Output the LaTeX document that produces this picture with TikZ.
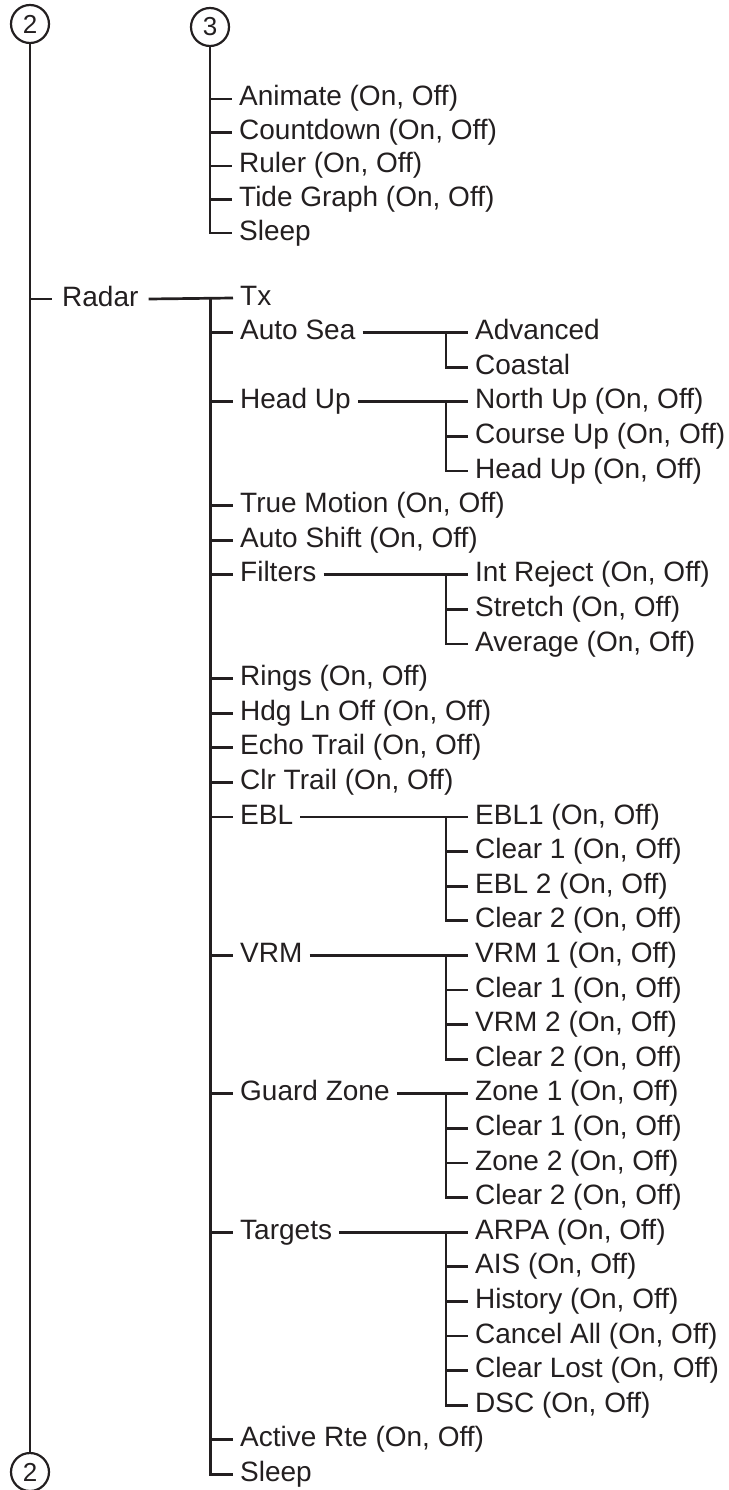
\documentclass[tikz,border=0pt]{standalone}
\usepackage{fontspec}
\setmainfont{Liberation Sans}
\definecolor{ink}{RGB}{35,31,32}
\newcommand\ry[1]{298+34.6*#1}
\newcommand\ty[1]{99+33.5*#1}
\begin{document}
\begin{tikzpicture}[x=1pt,y=-1pt,
  lbl/.style={anchor=west, inner xsep=7pt, inner ysep=0pt, text height=14pt, text depth=0pt,
    font=\fontsize{28}{32}\selectfont, text=ink},
  num/.style={circle, draw=ink, line width=2.2pt, minimum size=38pt, inner sep=0pt,
    font=\fontsize{26}{30}\selectfont, text=ink},
  link/.style={draw=ink, line width=2.7pt, line join=miter, line cap=butt}]
\useasboundingbox (0,0) rectangle (728,1490);

% circles
\node[num] (c2a) at (30,24) {2};
\node[num] (c2b) at (30,1472) {2};
\node[num] (c3) at (210,27) {3};

% top section
\node[lbl] (p1) at (232,{\ty{0}}) {Animate (On, Off)};
\node[lbl] (p2) at (232,{\ty{1}}) {Countdown (On, Off)};
\node[lbl] (p3) at (232,{\ty{2}}) {Ruler (On, Off)};
\node[lbl] (p4) at (232,{\ty{3}}) {Tide Graph (On, Off)};
\node[lbl] (p5) at (232,{\ty{4}}) {Sleep};

% radar
\node[lbl, inner xsep=10pt] (radar) at (52,299) {Radar};

% level 1
\node[lbl] (r0)  at (233,{\ry{0}})  {Tx};
\node[lbl] (r1)  at (233,{\ry{1}})  {Auto Sea};
\node[lbl] (r3)  at (233,{\ry{3}})  {Head Up};
\node[lbl] (r6)  at (233,{\ry{6}})  {True Motion (On, Off)};
\node[lbl] (r7)  at (233,{\ry{7}})  {Auto Shift (On, Off)};
\node[lbl] (r8)  at (233,{\ry{8}})  {Filters};
\node[lbl] (r11) at (233,{\ry{11}}) {Rings (On, Off)};
\node[lbl] (r12) at (233,{\ry{12}}) {Hdg Ln Off (On, Off)};
\node[lbl] (r13) at (233,{\ry{13}}) {Echo Trail (On, Off)};
\node[lbl] (r14) at (233,{\ry{14}}) {Clr Trail (On, Off)};
\node[lbl] (r15) at (233,{\ry{15}}) {EBL};
\node[lbl] (r19) at (233,{\ry{19}}) {VRM};
\node[lbl] (r23) at (233,{\ry{23}}) {Guard Zone};
\node[lbl] (r27) at (233,{\ry{27}}) {Targets};
\node[lbl] (r33) at (233,{\ry{33}}) {Active Rte (On, Off)};
\node[lbl] (r34) at (233,{\ry{34}}) {Sleep};

% level 2
\node[lbl] (a1) at (468,{\ry{1}}) {Advanced};
\node[lbl] (a2) at (468,{\ry{2}}) {Coastal};
\node[lbl] (h1) at (468,{\ry{3}}) {North Up (On, Off)};
\node[lbl] (h2) at (468,{\ry{4}}) {Course Up (On, Off)};
\node[lbl] (h3) at (468,{\ry{5}}) {Head Up (On, Off)};
\node[lbl] (f1) at (468,{\ry{8}}) {Int Reject (On, Off)};
\node[lbl] (f2) at (468,{\ry{9}}) {Stretch (On, Off)};
\node[lbl] (f3) at (468,{\ry{10}}) {Average (On, Off)};
\node[lbl] (e1) at (468,{\ry{15}}) {EBL1 (On, Off)};
\node[lbl] (e2) at (468,{\ry{16}}) {Clear 1 (On, Off)};
\node[lbl] (e3) at (468,{\ry{17}}) {EBL 2 (On, Off)};
\node[lbl] (e4) at (468,{\ry{18}}) {Clear 2 (On, Off)};
\node[lbl] (v1) at (468,{\ry{19}}) {VRM 1 (On, Off)};
\node[lbl] (v2) at (468,{\ry{20}}) {Clear 1 (On, Off)};
\node[lbl] (v3) at (468,{\ry{21}}) {VRM 2 (On, Off)};
\node[lbl] (v4) at (468,{\ry{22}}) {Clear 2 (On, Off)};
\node[lbl] (g1) at (468,{\ry{23}}) {Zone 1 (On, Off)};
\node[lbl] (g2) at (468,{\ry{24}}) {Clear 1 (On, Off)};
\node[lbl] (g3) at (468,{\ry{25}}) {Zone 2 (On, Off)};
\node[lbl] (g4) at (468,{\ry{26}}) {Clear 2 (On, Off)};
\node[lbl] (t1) at (468,{\ry{27}}) {ARPA (On, Off)};
\node[lbl] (t2) at (468,{\ry{28}}) {AIS (On, Off)};
\node[lbl] (t3) at (468,{\ry{29}}) {History (On, Off)};
\node[lbl] (t4) at (468,{\ry{30}}) {Cancel All (On, Off)};
\node[lbl] (t5) at (468,{\ry{31}}) {Clear Lost (On, Off)};
\node[lbl] (t6) at (468,{\ry{32}}) {DSC (On, Off)};

\coordinate (rv) at (210.5,0);
\coordinate (sv) at (446,0);

% main line 2
\draw[link] (c2a.south) -- (c2b.north);
\draw[link] (c2a.south |- radar.west) -- (radar.west);

% line 3
\draw[link] (c3.south) |- (p5.west);
\foreach \n in {p1,p2,p3,p4} \draw[link] (c3.south |- \n.west) -- (\n.west);

% radar tree
\draw[link] (radar.east) -- (r0.west);
\draw[link] (rv |- r0.west) |- (r34.west);
\foreach \n in {r1,r3,r6,r7,r8,r11,r12,r13,r14,r15,r19,r23,r27,r33}
  \draw[link] (rv |- \n.west) -- (\n.west);

% sub groups
\draw[link] (r1.east) -- (a1.west);
\draw[link] (sv |- a1.west) |- (a2.west);

\draw[link] (r3.east) -- (h1.west);
\draw[link] (sv |- h1.west) |- (h3.west);
\draw[link] (sv |- h2.west) -- (h2.west);

\draw[link] (r8.east) -- (f1.west);
\draw[link] (sv |- f1.west) |- (f3.west);
\draw[link] (sv |- f2.west) -- (f2.west);

\draw[link] (r15.east) -- (e1.west);
\draw[link] (sv |- e1.west) |- (e4.west);
\foreach \n in {e2,e3} \draw[link] (sv |- \n.west) -- (\n.west);

\draw[link] (r19.east) -- (v1.west);
\draw[link] (sv |- v1.west) |- (v4.west);
\foreach \n in {v2,v3} \draw[link] (sv |- \n.west) -- (\n.west);

\draw[link] (r23.east) -- (g1.west);
\draw[link] (sv |- g1.west) |- (g4.west);
\foreach \n in {g2,g3} \draw[link] (sv |- \n.west) -- (\n.west);

\draw[link] (r27.east) -- (t1.west);
\draw[link] (sv |- t1.west) |- (t6.west);
\foreach \n in {t2,t3,t4,t5} \draw[link] (sv |- \n.west) -- (\n.west);
\end{tikzpicture}
\end{document}
